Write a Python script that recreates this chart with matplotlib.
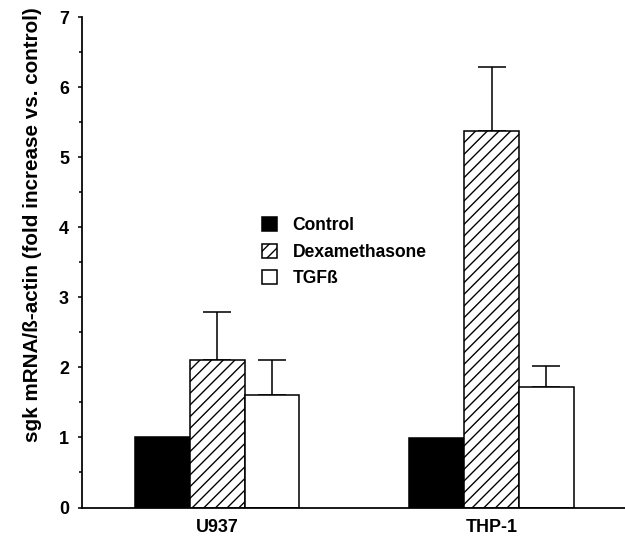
import matplotlib
matplotlib.use("Agg")
import matplotlib.pyplot as plt
from matplotlib.patches import Patch
from matplotlib.ticker import MultipleLocator
import numpy as np

plt.rcParams['font.family'] = ['Liberation Sans', 'DejaVu Sans']
plt.rcParams['font.weight'] = 'bold'
plt.rcParams['hatch.linewidth'] = 0.7

cell_lines = ["U937", "THP-1"]
treatments = ["Control", "Dexamethasone", "TGF\u00df"]
means = {
    "Control": [1.00, 0.99],
    "Dexamethasone": [2.10, 5.38],
    "TGF\u00df": [1.61, 1.725],
}
errors = {
    "Control": [0.0, 0.0],
    "Dexamethasone": [0.69, 0.90],
    "TGF\u00df": [0.49, 0.30],
}
ytick_labels = ["0", "1", "2", "3", "4", "5", "6", "7"]

styles = {
    "Control": dict(facecolor="black", hatch=None),
    "Dexamethasone": dict(facecolor="white", hatch="////"),
    "TGF\u00df": dict(facecolor="white", hatch=None),
}

W, H, DPI = 625, 538, 140
fig = plt.figure(figsize=(W / DPI, H / DPI), dpi=DPI)
ax = fig.add_axes([82 / W, (H - 507.5) / H, 1 - 82 / W, (507.5 - 17) / H])

x = np.arange(len(cell_lines))
bw = 0.2
offsets = [-bw, 0, bw]
lw = 0.8
for off, t in zip(offsets, treatments):
    st = styles[t]
    ax.bar(x + off, means[t], width=bw, facecolor=st["facecolor"], edgecolor="black",
           hatch=st["hatch"], linewidth=lw, zorder=2)
    err = np.array(errors[t])
    mask = err > 0
    if mask.any():
        ax.errorbar((x + off)[mask], np.array(means[t])[mask],
                    yerr=[np.zeros(mask.sum()), err[mask]],
                    fmt="none", ecolor="black", elinewidth=0.8, capsize=7.2,
                    capthick=0.8, zorder=1)

ax.set_xlim(-0.492, 1.486)
ax.set_ylim(0, 7)
ax.set_yticks(range(len(ytick_labels)))
ax.set_yticklabels(ytick_labels)
ax.yaxis.set_minor_locator(MultipleLocator(0.5))
ax.tick_params(axis="y", which="major", direction="out", length=2.2, width=0.8,
               labelsize=9.2, pad=4.5)
ax.tick_params(axis="y", which="minor", direction="out", length=1.6, width=0.8)
ax.set_xticks(x)
ax.set_xticklabels(cell_lines)
ax.tick_params(axis="x", length=0, labelsize=9.2, pad=6)
for lab in ax.get_xticklabels() + ax.get_yticklabels():
    lab.set_fontweight("bold")

for s in ["top", "right"]:
    ax.spines[s].set_visible(False)
ax.spines["left"].set_linewidth(0.9)
ax.spines["bottom"].set_linewidth(0.9)

fig.text(33 / W, 1 - 224.5 / H, "sgk mRNA/\u00df-actin (fold increase vs. control)",
         rotation=90, ha="center", va="center", fontsize=10.6, fontweight="bold")

handles = [Patch(facecolor=styles[t]["facecolor"], edgecolor="black",
                 hatch=styles[t]["hatch"], linewidth=0.8) for t in treatments]
leg = ax.legend(handles, treatments, loc="upper left",
                bbox_to_anchor=(262 / W, 1 - 217 / H), bbox_transform=fig.transFigure,
                frameon=False, fontsize=9, handlelength=0.85, handleheight=0.85,
                handletextpad=0.9, labelspacing=0.55, borderpad=0, borderaxespad=0)
for txt in leg.get_texts():
    txt.set_fontweight("bold")

fig.savefig("out.png", dpi=DPI)
